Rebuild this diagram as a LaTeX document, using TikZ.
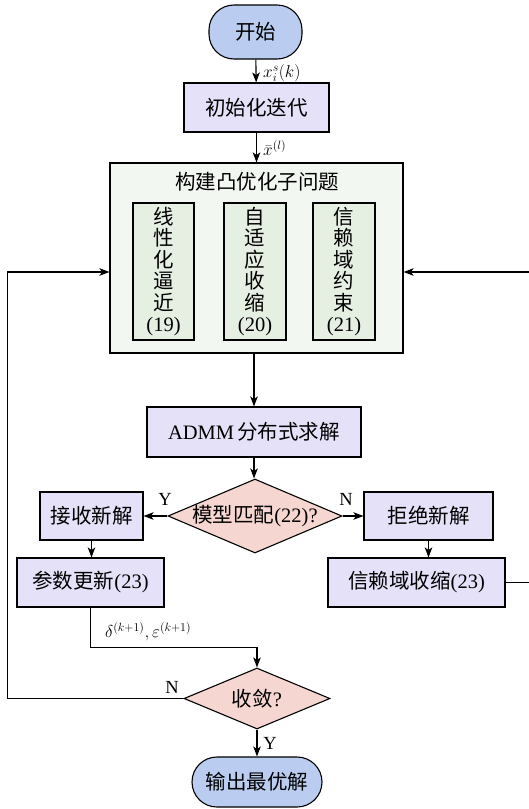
\documentclass[tikz,border=0pt]{standalone}
\usepackage{fontspec}
\setmainfont{Liberation Serif}
\newfontfamily\cjk{Noto Sans CJK SC}
\usetikzlibrary{shapes.geometric,arrows.meta}
\definecolor{termblue}{HTML}{BACDF0}
\definecolor{boxlav}{HTML}{E4E1F8}
\definecolor{diapink}{HTML}{F6D6D1}
\definecolor{biggreen}{HTML}{F2F7F1}
\definecolor{subgreen}{HTML}{E5EFE2}
\begin{document}
\begin{tikzpicture}[x=1pt,y=-1pt,
  base/.style={draw=black, line width=1.1pt, font=\fontsize{20.5}{21.5}\selectfont, inner sep=0pt, align=center},
  term/.style={base, fill=termblue, rounded corners=25pt},
  proc/.style={base, fill=boxlav},
  dia/.style={base, diamond, fill=diapink, aspect=2.3},
  bigbox/.style={base, fill=biggreen},
  subbox/.style={base, fill=subgreen},
  arr/.style={line width=1.1pt, -{Stealth[length=10pt,width=7.5pt,inset=2.5pt]}},
  lab/.style={font=\fontsize{18.5}{20}\selectfont, inner sep=0pt}
]
\useasboundingbox (0,0) rectangle (528,809);

\node[term, minimum width=93pt, minimum height=54pt] (start) at (255.5,32) {\cjk 开始};
\node[proc, minimum width=145pt, minimum height=49pt] (init) at (256.5,107.5) {\cjk 初始化迭代};
\node[bigbox, minimum width=293pt, minimum height=190pt] (big) at (256.5,258) {};
\node[font=\fontsize{20.5}{21.5}\selectfont\cjk, inner sep=0pt] (title) at (257,182) {构建凸优化子问题};
\node[subbox, minimum width=61pt, minimum height=137pt] (s1) at (163.5,271.5) {{\cjk 线}\\{\cjk 性}\\{\cjk 化}\\{\cjk 逼}\\{\cjk 近}\\(19)};
\node[subbox, minimum width=62pt, minimum height=137pt] (s2) at (255,271.5) {{\cjk 自}\\{\cjk 适}\\{\cjk 应}\\{\cjk 收}\\{\cjk 缩}\\(20)};
\node[subbox, minimum width=62pt, minimum height=137pt] (s3) at (344,271.5) {{\cjk 信}\\{\cjk 赖}\\{\cjk 域}\\{\cjk 约}\\{\cjk 束}\\(21)};
\node[proc, minimum width=214pt, minimum height=50pt] (admm) at (254,432) {ADMM\,{\cjk 分布式求解}};
\node[dia, minimum width=174pt, minimum height=74pt, label={center:{\fontsize{20.5}{21.5}\selectfont{\cjk 模型匹配}(22)?}}] (d1) at (255,516) {};
\node[proc, minimum width=103pt, minimum height=48pt] (acc) at (91.5,516) {\cjk 接收新解};
\node[proc, minimum width=129pt, minimum height=48pt] (rej) at (428.5,516) {\cjk 拒绝新解};
\node[proc, minimum width=147pt, minimum height=49pt] (upd) at (90.5,582.5) {{\cjk 参数更新}(23)};
\node[proc, minimum width=177pt, minimum height=49pt] (trs) at (416.5,582.5) {{\cjk 信赖域收缩}(23)};
\node[dia, minimum width=146pt, minimum height=61pt, label={center:{\fontsize{20.5}{21.5}\selectfont{\cjk 收敛}?}}] (conv) at (257,698.5) {};
\node[term, minimum width=130pt, minimum height=50pt] (out) at (257,782) {\cjk 输出最优解};

\coordinate (lft) at (7.5,272);
\coordinate (rgt) at (534,272);

\draw[arr] (start) -- (init);
\draw[arr] (init) -- (init |- big.north);
\draw[arr] (big.south -| admm) -- (admm);
\draw[arr] (admm) -- (admm |- d1.north);
\draw[arr] (d1.west) -- (acc.east);
\draw[arr] (d1.east) -- (rej.west);
\draw[arr] (acc) -- (acc |- upd.north);
\draw[arr] (rej) -- (rej |- trs.north);
\draw[arr] (upd.south) -- ++(0,40) -| (conv.north);
\draw[arr] (conv.south) -- (out.north);
\draw[arr] (conv.west) -| (lft) -- (lft -| big.west);
\draw[arr] (trs.east) -| (rgt) -- (rgt -| big.east);

\node[lab, anchor=west] (l1) at (263,73) {$x_i^{s}(k)$};
\node[lab, anchor=west] (l2) at (263,148) {$\bar{x}^{(l)}$};
\node[lab] (ly1) at (165,499) {Y};
\node[lab] (ln1) at (346,499) {N};
\node[lab, anchor=west] (l3) at (105,632) {$\delta^{(k+1)},\varepsilon^{(k+1)}$};
\node[lab] (ln2) at (172,687) {N};
\node[lab] (ly2) at (270,743) {Y};
\end{tikzpicture}
\end{document}
